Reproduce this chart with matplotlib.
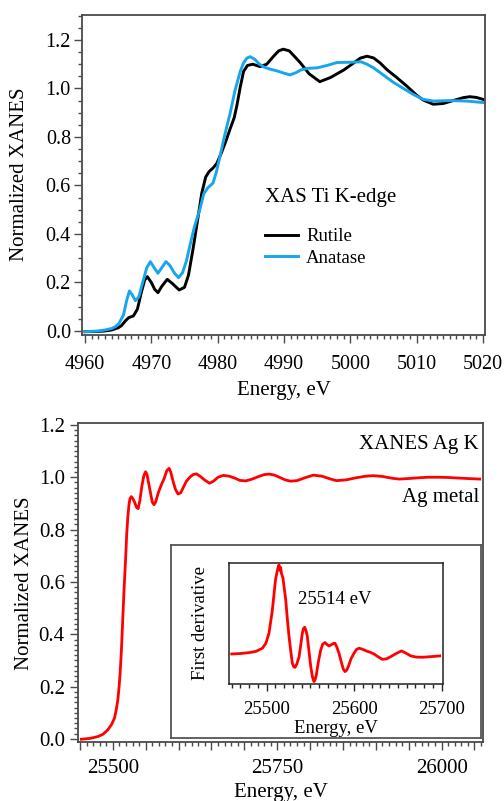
import matplotlib
matplotlib.use("Agg")
import matplotlib.pyplot as plt
from matplotlib.ticker import MultipleLocator, FuncFormatter
import numpy as np

plt.rcParams['font.family'] = ['Liberation Serif', 'DejaVu Serif']

# Ti K-edge XANES, rutile and anatase
rutile_e = [4960, 4962, 4963, 4964, 4965, 4965.5, 4966.1, 4966.6, 4967.3, 4967.9,
            4968.5, 4969.0, 4969.4, 4970.0, 4970.5, 4971.0, 4971.6, 4972.4, 4973.2, 4974.2,
            4975.0, 4975.6, 4976.3, 4976.9, 4977.6, 4978.2, 4978.7, 4979.3, 4979.85, 4980.5,
            4981.2, 4981.9, 4982.5, 4982.9, 4983.4, 4983.9, 4984.5, 4985.3, 4986.4, 4987.4,
            4988.5, 4989.2, 4989.9, 4990.8, 4992.4, 4993.8, 4995.4, 4997.0, 4999.0, 5000.5,
            5001.5, 5002.5, 5003.5, 5004.5, 5005.5, 5007.0, 5008.5, 5010.0, 5011.0, 5012.5,
            5014.0, 5015.5, 5017.0, 5018.0, 5019.0, 5020.0]
rutile_mu = [-0.003, -0.002, 0.0, 0.004, 0.013, 0.022, 0.042, 0.055, 0.062, 0.09,
             0.16, 0.21, 0.224, 0.20, 0.172, 0.158, 0.185, 0.213, 0.195, 0.169,
             0.18, 0.23, 0.34, 0.444, 0.568, 0.635, 0.657, 0.672, 0.69, 0.73,
             0.78, 0.835, 0.88, 0.93, 1.005, 1.07, 1.095, 1.10, 1.09, 1.10,
             1.135, 1.155, 1.162, 1.155, 1.108, 1.06, 1.028, 1.045, 1.076, 1.105,
             1.125, 1.133, 1.126, 1.105, 1.078, 1.045, 1.01, 0.972, 0.952, 0.935,
             0.938, 0.95, 0.962, 0.966, 0.963, 0.955]

anatase_e = [4960, 4962, 4963, 4964, 4964.6, 4965.1, 4965.8, 4966.3, 4966.7, 4967.1,
             4967.6, 4968.1, 4968.7, 4969.3, 4969.85, 4970.4, 4971.0, 4971.6, 4972.2, 4972.8,
             4973.5, 4974.1, 4974.7, 4975.3, 4975.8, 4976.5, 4977.3, 4977.9, 4978.5, 4979.3,
             4979.8, 4980.35, 4981.0, 4981.4, 4981.9, 4982.6, 4983.4, 4983.9, 4984.4, 4984.9,
             4985.6, 4986.3, 4987.0, 4988.0, 4989.0, 4990.0, 4990.9, 4991.8, 4992.6, 4993.6,
             4995.0, 4996.5, 4998.0, 5000.0, 5001.6, 5002.5, 5003.5, 5005.0, 5006.5, 5008.0,
             5009.5, 5011.0, 5012.5, 5015.0, 5017.5, 5020.0]
anatase_mu = [-0.003, 0.0, 0.004, 0.01, 0.018, 0.03, 0.066, 0.128, 0.165, 0.15,
              0.125, 0.14, 0.2, 0.26, 0.286, 0.262, 0.238, 0.262, 0.286, 0.27,
              0.238, 0.22, 0.24, 0.29, 0.35, 0.43, 0.50, 0.565, 0.59, 0.61,
              0.655, 0.72, 0.80, 0.845, 0.90, 0.99, 1.07, 1.105, 1.125, 1.131,
              1.12, 1.10, 1.088, 1.079, 1.072, 1.063, 1.056, 1.065, 1.077, 1.083,
              1.085, 1.095, 1.107, 1.108, 1.11, 1.10, 1.085, 1.055, 1.025, 1.0,
              0.975, 0.955, 0.948, 0.95, 0.948, 0.942]

# Ag K-edge XANES, silver foil
ag_e = [25452, 25465, 25477, 25485, 25492, 25498, 25502.5, 25505, 25507.6, 25509.5,
        25511, 25513, 25515, 25517, 25519.3, 25521, 25522.8, 25524.5, 25526, 25528,
        25530, 25533, 25536, 25538.5, 25541, 25544, 25547, 25549.7, 25552, 25555,
        25558, 25560, 25562.5, 25565, 25569, 25573.5, 25578, 25582, 25585.6, 25588,
        25591, 25595, 25599, 25603, 25607, 25611.4, 25617, 25622, 25627, 25633,
        25639.3, 25647, 25653, 25660, 25668, 25677, 25686, 25693, 25702, 25712,
        25722, 25730, 25738, 25746, 25755, 25762, 25770, 25780, 25792, 25805,
        25818, 25830, 25840, 25855, 25870, 25885, 25896, 25910, 25925, 25936,
        25950, 25965, 25980, 25995, 26010, 26025, 26040, 26058]
ag_mu = [-0.001, 0.002, 0.009, 0.018, 0.034, 0.055, 0.08, 0.11, 0.15, 0.2,
         0.25, 0.34, 0.455, 0.57, 0.684, 0.78, 0.85, 0.895, 0.918, 0.926,
         0.92, 0.905, 0.885, 0.88, 0.91, 0.964, 1.005, 1.021, 1.01, 0.97,
         0.93, 0.905, 0.895, 0.905, 0.94, 0.97, 0.995, 1.025, 1.034, 1.02,
         0.99, 0.955, 0.936, 0.94, 0.96, 0.983, 1.0, 1.01, 1.013, 1.003,
         0.99, 0.977, 0.985, 1.0, 1.007, 1.004, 0.996, 0.988, 0.986, 0.993,
         1.003, 1.01, 1.012, 1.008, 0.998, 0.99, 0.985, 0.987, 0.998, 1.008,
         1.004, 0.994, 0.987, 0.99, 0.998, 1.004, 1.006, 1.003, 0.996, 0.993,
         0.995, 0.998, 1.0, 1.0, 0.999, 0.997, 0.995, 0.993]

# first derivative of the Ag spectrum (arb. units)
deriv_e = [25460, 25470, 25480, 25488, 25495, 25499, 25502.6, 25506.4, 25510, 25512,
           25513.3, 25514, 25515, 25516, 25516.7, 25518.6, 25520, 25521.7, 25523.5, 25525.5,
           25527.5, 25529.3, 25531, 25532.4, 25534.5, 25537, 25539, 25540.7, 25542, 25543.4,
           25545, 25546.4, 25548.3, 25550.3, 25552.3, 25554, 25555.3, 25556.7, 25559, 25561.7,
           25564, 25566.6, 25569, 25571.2, 25574, 25576.5, 25578, 25580, 25582.6, 25585.5,
           25587.5, 25589.5, 25591.5, 25593.3, 25596.5, 25599.8, 25602.5, 25605.5, 25609, 25613,
           25618, 25622.6, 25627, 25632, 25637, 25641.7, 25648, 25654, 25659, 25664.6,
           25671, 25678, 25688, 25697.7]
deriv_d = [0.0, 0.005, 0.015, 0.03, 0.064, 0.12, 0.233, 0.49, 0.83, 0.93,
           0.98, 1.0, 0.94, 0.97, 0.91, 0.85, 0.74, 0.61, 0.40, 0.195,
           0.03, -0.105, -0.145, -0.15, -0.11, -0.03, 0.11, 0.233, 0.285, 0.30,
           0.26, 0.195, 0.03, -0.14, -0.26, -0.31, -0.29, -0.235, -0.09, 0.045,
           0.11, 0.128, 0.105, 0.09, 0.105, 0.12, 0.12, 0.08, 0.008, -0.1,
           -0.17, -0.198, -0.18, -0.14, -0.05, 0.008, 0.05, 0.064, 0.055, 0.037,
           0.02, 0.0, -0.03, -0.06, -0.055, -0.03, 0.005, 0.034, 0.01, -0.022,
           -0.035, -0.037, -0.03, -0.022]

edge_energy = 25514

spine_col = '#4a4a4a'
blue = '#18a5ee'


def style_frame(ax, col=spine_col, lw=1.3):
    for s in ax.spines.values():
        s.set_color(col)
        s.set_linewidth(lw)


fig = plt.figure(figsize=(5.04, 8.01), dpi=100)

# ---- Ti K-edge ----
ax1 = fig.add_axes([0.1627, 0.5818, 0.7996, 0.3995])
ax1.plot(rutile_e, rutile_mu, color='black', lw=2.1, label='Rutile')
ax1.plot(anatase_e, anatase_mu, color=blue, lw=2.1, label='Anatase')
ax1.set_xlim(4959.55, 5020.3)
ax1.set_ylim(-0.0165, 1.303)
ax1.xaxis.set_major_locator(MultipleLocator(10))
ax1.xaxis.set_minor_locator(MultipleLocator(1))
ax1.yaxis.set_major_locator(MultipleLocator(0.2))
ax1.yaxis.set_minor_locator(MultipleLocator(0.05))
ax1.yaxis.set_major_formatter(FuncFormatter(lambda v, p: f'{v:.1f}'))
ax1.tick_params(which='both', direction='out', color=spine_col, width=1.0,
                top=False, right=False, labelsize=14.5)
ax1.tick_params(which='major', length=5.5)
ax1.tick_params(which='minor', length=3)
ax1.tick_params(axis='x', which='major', pad=9)
ax1.tick_params(axis='y', which='major', pad=2.5)
style_frame(ax1)
ax1.set_xlabel('Energy, eV', fontsize=15)
ax1.set_ylabel('Normalized XANES', fontsize=15)
ax1.xaxis.set_label_coords(0.5, -0.172)
ax1.xaxis.label.set_va('center')
ax1.yaxis.set_label_coords(-0.154, 0.503)
ax1.yaxis.label.set_va('center')
ax1.text(0.454, 0.431, 'XAS Ti K-edge', transform=ax1.transAxes,
         fontsize=15, ha='left', va='center')
ax1.legend(loc='upper left', bbox_to_anchor=(0.454, 0.334), frameon=False,
           fontsize=13.5, handlelength=1.75, handletextpad=0.45, labelspacing=0.25,
           borderpad=0, borderaxespad=0)

# ---- Ag K-edge ----
ax2 = fig.add_axes([0.1548, 0.0737, 0.8036, 0.3983])
ax2.plot(ag_e, ag_mu, color='red', lw=2.0)
ax2.set_xlim(25447, 26063)
ax2.set_ylim(-0.0115, 1.2075)
ax2.xaxis.set_major_locator(MultipleLocator(50))
ax2.xaxis.set_minor_locator(MultipleLocator(10))
ax2.xaxis.set_major_formatter(
    FuncFormatter(lambda v, p: f'{v:.0f}' if round(v) % 250 == 0 else ''))
ax2.yaxis.set_major_locator(MultipleLocator(0.2))
ax2.yaxis.set_minor_locator(MultipleLocator(0.02))
ax2.yaxis.set_major_formatter(FuncFormatter(lambda v, p: f'{v:.1f}'))
ax2.tick_params(which='both', direction='out', color=spine_col, width=1.0,
                top=False, right=False, labelsize=15)
ax2.tick_params(which='major', length=5.5)
ax2.tick_params(which='minor', length=3)
ax2.tick_params(axis='x', which='major', pad=7)
ax2.tick_params(axis='y', which='major', pad=4)
style_frame(ax2)
ax2.set_xlabel('Energy, eV', fontsize=15)
ax2.set_ylabel('Normalized XANES', fontsize=15)
ax2.xaxis.set_label_coords(0.5, -0.157)
ax2.xaxis.label.set_va('center')
ax2.yaxis.set_label_coords(-0.133, 0.498)
ax2.yaxis.label.set_va('center')
ax2.text(0.990, 0.931, 'XANES Ag K', transform=ax2.transAxes,
         fontsize=15, ha='right', va='center')
ax2.text(0.990, 0.765, 'Ag metal', transform=ax2.transAxes,
         fontsize=15, ha='right', va='center')

# inset panel background box
box = fig.add_axes([0.3393, 0.0787, 0.615, 0.241])
box.set_xticks([])
box.set_yticks([])
style_frame(box, col='#555555', lw=1.3)

# inset: first derivative
ax3 = fig.add_axes([0.4544, 0.1461, 0.4246, 0.1511])
ax3.plot(deriv_e, deriv_d, color='red', lw=2.0)
ax3.set_xlim(25456.9, 25701.5)
ax3.set_ylim(-0.337, 1.022)
ax3.xaxis.set_major_locator(MultipleLocator(100))
ax3.xaxis.set_minor_locator(MultipleLocator(10))
ax3.set_yticks([])
ax3.tick_params(which='both', direction='out', color='#222222', width=1.0,
                top=False, right=False, labelsize=13.5)
ax3.tick_params(which='major', length=5, pad=7)
ax3.tick_params(which='minor', length=3)
style_frame(ax3, col='#222222', lw=1.1)
ax3.set_xlabel('Energy, eV', fontsize=13.5)
ax3.set_ylabel('First derivative', fontsize=13.5)
ax3.xaxis.set_label_coords(0.5, -0.37)
ax3.xaxis.label.set_va('center')
ax3.yaxis.set_label_coords(-0.1355, 0.504)
ax3.yaxis.label.set_va('center')
ax3.text(0.322, 0.694, f'{edge_energy} eV', transform=ax3.transAxes,
         fontsize=13.5, ha='left', va='center')

fig.savefig('out.png', dpi=100)
